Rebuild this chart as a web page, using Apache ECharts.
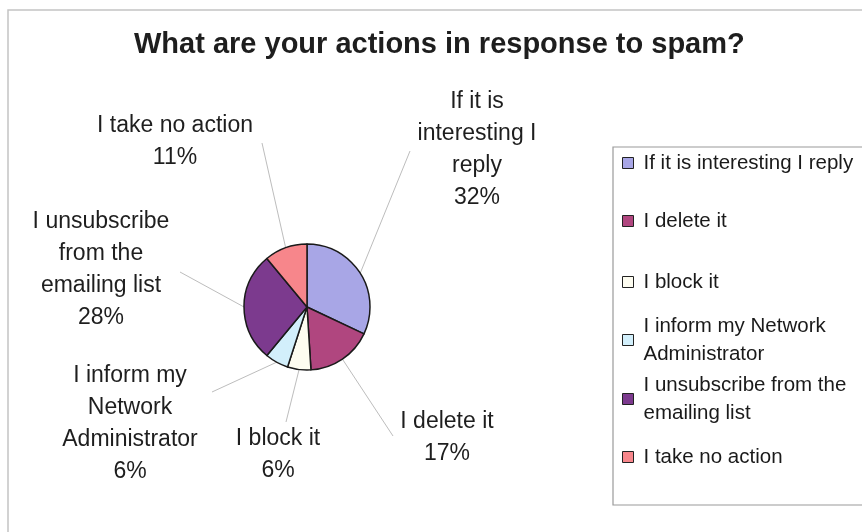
<!DOCTYPE html>
<html>
<head>
<meta charset="utf-8">
<script src="https://cdn.jsdelivr.net/npm/echarts@6/dist/echarts.min.js"></script>
<style>
  html, body { margin: 0; padding: 0; background: #ffffff; }
  #chart { width: 862px; height: 532px; }
</style>
</head>
<body>
<div id="chart"></div>
<script>
// Survey answers, in pie order (clockwise from 12 o'clock)
const categories = [
  'If it is interesting I reply',
  'I delete it',
  'I block it',
  'I inform my Network Administrator',
  'I unsubscribe from the emailing list',
  'I take no action'
];
// Share of respondents, percent
const shares = [32, 17, 6, 6, 28, 11];
// Wrapped text used beside the slices
const sliceLabels = [
  'If it is\ninteresting I\nreply',
  'I delete it',
  'I block it',
  'I inform my\nNetwork\nAdministrator',
  'I unsubscribe\nfrom the\nemailing list',
  'I take no action'
];
// Wrapped text used in the legend
const legendLabels = [
  'If it is interesting I reply',
  'I delete it',
  'I block it',
  'I inform my Network\nAdministrator',
  'I unsubscribe from the\nemailing list',
  'I take no action'
];
const sliceColors = ['#a8a6e6', '#b0467f', '#fdfcf0', '#d2effb', '#7c3a8e', '#f7868b'];

const FONT = "'Liberation Sans', Arial, Helvetica, sans-serif";
const PIE_CENTER = [307, 307];
const PIE_RADIUS = 63;

// Where each slice label sits (centre of the text block) and where its leader ends
const labelCenters = [[477, 150], [447, 438], [278, 455], [130, 424], [101, 270], [175, 142]];
const leaderEnds = [[410, 151], [393, 436], [286, 422], [212, 392], [180, 272], [262, 143]];

// Legend rows: vertical centre of each entry's first line
const legendRowY = [163, 221, 282, 340, 399, 457];
const LEGEND_LINE = 28;

function sliceEdgePoint(i) {
  const total = shares.reduce((a, b) => a + b, 0);
  let before = 0;
  for (let k = 0; k < i; k++) before += shares[k];
  const mid = (before + shares[i] / 2) / total * Math.PI * 2;
  return [PIE_CENTER[0] + PIE_RADIUS * Math.sin(mid), PIE_CENTER[1] - PIE_RADIUS * Math.cos(mid)];
}

const chart = echarts.init(document.getElementById('chart'), null, { renderer: 'canvas' });

const legends = categories.map((name, i) => {
  const lines = legendLabels[i].split('\n').length;
  const padTop = (lines - 1) * LEGEND_LINE;
  const boxH = lines * LEGEND_LINE + padTop;
  return {
    data: [name],
    orient: 'vertical',
    left: 622,
    top: legendRowY[i] - boxH / 2,
    padding: 0,
    icon: 'rect',
    itemWidth: 11,
    itemHeight: 11,
    selectedMode: false,
    formatter: () => legendLabels[i],
    itemStyle: { borderColor: '#222222', borderWidth: 1 },
    textStyle: {
      fontFamily: FONT,
      fontSize: 20.5,
      lineHeight: LEGEND_LINE,
      color: '#1a1a1a',
      padding: [padTop, 0, 0, 5]
    }
  };
});

chart.setOption({
  animation: false,
  backgroundColor: '#ffffff',
  title: {
    text: 'What are your actions in response to spam?',
    left: 134,
    top: 30,
    padding: 0,
    textStyle: { fontFamily: FONT, fontSize: 29, fontWeight: 'bold', color: '#1e1e1e' }
  },
  graphic: [
    {
      type: 'rect',
      shape: { x: 8, y: 10, width: 900, height: 600 },
      style: { fill: null, stroke: '#c4c4c4', lineWidth: 1.5 },
      silent: true,
      z: -1
    },
    {
      type: 'rect',
      shape: { x: 613, y: 147, width: 300, height: 358 },
      style: { fill: null, stroke: '#9a9a9a', lineWidth: 1.2 },
      silent: true,
      z: -1
    }
  ],
  legend: legends,
  series: [{
    type: 'pie',
    center: PIE_CENTER,
    radius: PIE_RADIUS,
    startAngle: 90,
    clockwise: true,
    avoidLabelOverlap: false,
    silent: true,
    emphasis: { disabled: true },
    itemStyle: { borderColor: '#1a1a1a', borderWidth: 1.5 },
    label: {
      show: true,
      position: 'outside',
      fontFamily: FONT,
      fontSize: 23,
      lineHeight: 32,
      color: '#1e1e1e',
      align: 'center',
      formatter: p => sliceLabels[p.dataIndex] + '\n' + p.value + '%'
    },
    labelLine: {
      show: true,
      length: 10,
      length2: 10,
      smooth: false,
      lineStyle: { color: '#bdbdbd', width: 1 }
    },
    labelLayout: params => {
      const i = params.dataIndex;
      const start = (params.labelLinePoints && params.labelLinePoints[0]) || sliceEdgePoint(i);
      const end = leaderEnds[i];
      return {
        x: labelCenters[i][0],
        y: labelCenters[i][1],
        align: 'center',
        verticalAlign: 'middle',
        labelLinePoints: [start, end, end]
      };
    },
    data: categories.map((name, i) => ({
      name: name,
      value: shares[i],
      itemStyle: { color: sliceColors[i] }
    }))
  }]
});
</script>
</body>
</html>
